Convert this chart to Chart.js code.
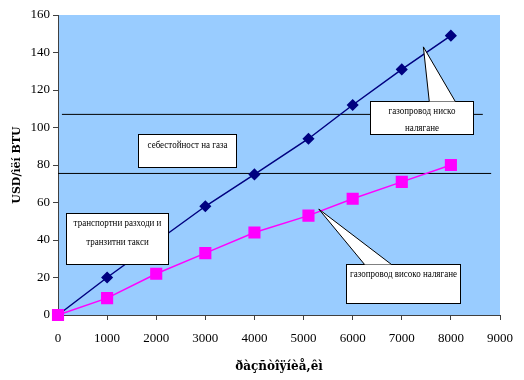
<!DOCTYPE html>
<html>
<head>
<meta charset="utf-8">
<script src="https://cdn.jsdelivr.net/npm/chart.js@4/dist/chart.umd.min.js"></script>
<style>
  html, body { margin: 0; padding: 0; background: #ffffff; }
  #wrap { width: 524px; height: 380px; }
</style>
</head>
<body>
<div id="wrap"><canvas id="chart"></canvas></div>
<script>
// данни (разстояние в км)
const distLow = [0, 1000, 3000, 4000, 5100, 6000, 7000, 8000];
const costLow = [0, 20, 58, 75, 94, 112, 131, 149];
const distHigh = [0, 1000, 2000, 3000, 4000, 5100, 6000, 7000, 8000];
const costHigh = [0, 9, 22, 33, 44, 53, 62, 71, 80];
const priceUpper = 107;
const priceLower = 75.5;
const xTicks = [0, 1000, 2000, 3000, 4000, 5000, 6000, 7000, 8000, 9000];
const yTicks = [0, 20, 40, 60, 80, 100, 120, 140, 160];

const xTitle = 'ðàçñòîÿíèå,êì';
const yTitle = 'USD/ìëí BTU';

// текстови кутии (в единици на данните), rows = относителна височина на редовете
const callouts = [
  { lines: ['себестойност на газа'], rows: [0.33], x0: 1620, x1: 3630, y0: 96.5, y1: 79 },
  { lines: ['транспортни разходи и', 'транзитни такси'], rows: [0.2, 0.56],
    x0: 160, x1: 2230, y0: 54.4, y1: 27.2 },
  { lines: ['газопровод ниско', 'налягане'], rows: [0.3, 0.8],
    x0: 6345, x1: 8453, y0: 114.1, y1: 96.5, tip: [7440, 143], base: [7560, 8090] },
  { lines: ['газопровод високо налягане'], rows: [0.26],
    x0: 5858, x1: 8189, y0: 27.2, y1: 6.4, tip: [5310, 56.5], base: [6243, 6791] }
];

const serif = '"Liberation Serif", "Times New Roman", serif';

const plotBg = {
  id: 'plotBg',
  beforeDraw(chart) {
    const { ctx, chartArea: a } = chart;
    ctx.save();
    ctx.fillStyle = '#99ccff';
    ctx.fillRect(a.left, a.top, a.right - a.left, a.bottom - a.top);
    ctx.restore();
  }
};

const calloutPlugin = {
  id: 'callouts',
  afterDatasetsDraw(chart) {
    const { ctx, scales: { x, y } } = chart;
    ctx.save();
    ctx.lineWidth = 1;
    ctx.strokeStyle = '#000000';
    callouts.forEach(c => {
      const l = Math.round(x.getPixelForValue(c.x0)) + 0.5;
      const r = Math.round(x.getPixelForValue(c.x1)) + 0.5;
      const t = Math.round(y.getPixelForValue(c.y0)) + 0.5;
      const b = Math.round(y.getPixelForValue(c.y1)) + 0.5;
      ctx.fillStyle = '#ffffff';
      ctx.fillRect(l, t, r - l, b - t);
      ctx.strokeRect(l, t, r - l, b - t);
      if (c.tip) {
        const tx = x.getPixelForValue(c.tip[0]);
        const ty = y.getPixelForValue(c.tip[1]);
        const b0 = x.getPixelForValue(c.base[0]);
        const b1 = x.getPixelForValue(c.base[1]);
        ctx.beginPath();
        ctx.moveTo(b0, t);
        ctx.lineTo(tx, ty);
        ctx.lineTo(b1, t);
        ctx.closePath();
        ctx.fill();
        ctx.beginPath();
        ctx.moveTo(b0, t);
        ctx.lineTo(tx, ty);
        ctx.lineTo(b1, t);
        ctx.stroke();
      }
      ctx.fillStyle = '#000000';
      ctx.font = '10px ' + serif;
      ctx.textAlign = 'center';
      ctx.textBaseline = 'middle';
      const h = b - t;
      const cx = (l + r) / 2;
      c.lines.forEach((txt, i) => {
        ctx.save();
        ctx.translate(cx, t + h * c.rows[i]);
        ctx.scale(0.9, 1);
        ctx.fillText(txt, 0, 0);
        ctx.restore();
      });
    });
    ctx.restore();
  }
};

new Chart(document.getElementById('chart'), {
  type: 'line',
  data: {
    datasets: [
      {
        data: [{ x: 80, y: priceUpper }, { x: 8650, y: priceUpper }],
        borderColor: '#000000', borderWidth: 1, pointRadius: 0, order: 3
      },
      {
        data: [{ x: 0, y: priceLower }, { x: 8820, y: priceLower }],
        borderColor: '#000000', borderWidth: 1, pointRadius: 0, order: 3
      },
      {
        data: distLow.map((d, i) => ({ x: d, y: costLow[i] })),
        borderColor: '#000080', backgroundColor: '#000080', borderWidth: 1.5,
        pointStyle: 'rectRot', pointRadius: 5, clip: false, order: 2
      },
      {
        data: distHigh.map((d, i) => ({ x: d, y: costHigh[i] })),
        borderColor: '#ff00ff', backgroundColor: '#ff00ff', borderWidth: 1.5,
        pointStyle: 'rect', pointRadius: 7.5, clip: false, order: 1
      }
    ]
  },
  options: {
    responsive: true,
    maintainAspectRatio: false,
    animation: false,
    events: [],
    layout: { padding: { left: 0, top: 15, right: 22, bottom: 0 } },
    plugins: { legend: { display: false }, tooltip: { enabled: false } },
    scales: {
      x: {
        type: 'linear', min: 0, max: 9000,
        afterFit: s => { s.height = 65; },
        afterBuildTicks: s => { s.ticks = xTicks.map(v => ({ value: v })); },
        ticks: { color: '#000000', font: { family: serif, size: 13 }, padding: 11, maxRotation: 0,
          callback: v => String(v) },
        grid: { drawOnChartArea: false, tickLength: 5, color: '#404040' },
        border: { color: '#404040', width: 1 },
        title: { display: true, text: xTitle, color: '#000000',
          font: { family: '"DejaVu Serif", serif', size: 12, weight: 'bold' }, padding: { top: 0, bottom: 6 } }
      },
      y: {
        type: 'linear', min: 0, max: 160,
        afterFit: s => { s.width = 58; },
        afterBuildTicks: s => { s.ticks = yTicks.map(v => ({ value: v })); },
        ticks: { color: '#000000', font: { family: serif, size: 13 }, padding: 3,
          callback: v => String(v) },
        grid: { drawOnChartArea: false, tickLength: 5, color: '#404040' },
        border: { color: '#404040', width: 1 },
        title: { display: true, text: yTitle, color: '#000000',
          font: { family: '"DejaVu Serif", serif', size: 11, weight: 'bold' }, padding: { top: 11, bottom: 0 } }
      }
    }
  },
  plugins: [plotBg, calloutPlugin]
});
</script>
</body>
</html>
